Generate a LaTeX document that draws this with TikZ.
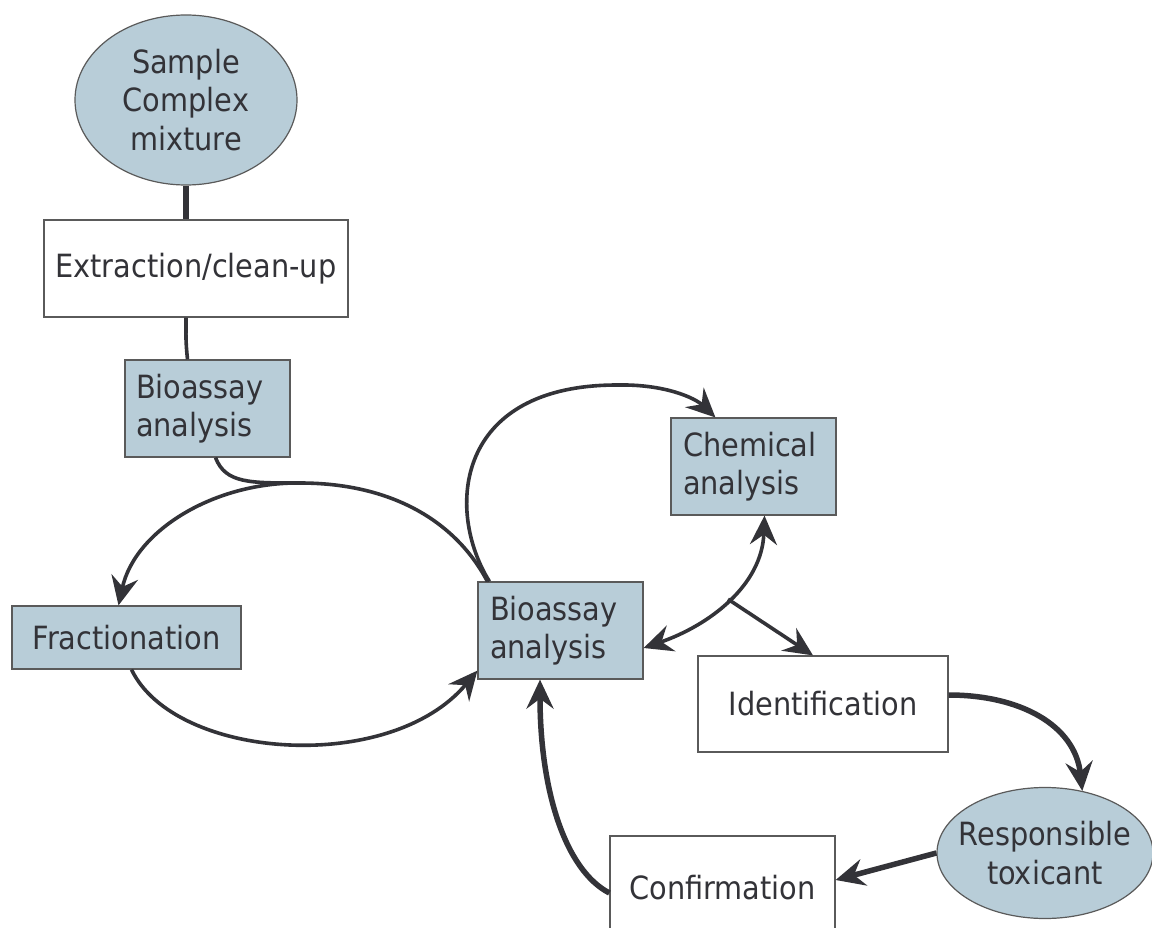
\documentclass[tikz,border=0pt]{standalone}
\usepackage{fontspec}
\setmainfont{DejaVu Sans Condensed}
\usetikzlibrary{arrows.meta,calc,shapes.geometric}
\definecolor{boxfill}{HTML}{B8CDD8}
\definecolor{ink}{HTML}{333338}
\definecolor{edgegrey}{HTML}{5A5A5A}
\begin{document}
\begin{tikzpicture}[x=1pt,y=-1pt,
  every node/.style={text=ink, font=\fontsize{32}{38.5}\selectfont},
  box/.style={draw=edgegrey, line width=1.2pt, rectangle, inner sep=0pt},
  filled/.style={fill=boxfill},
  plain/.style={fill=white},
  oval/.style={ellipse, draw=edgegrey, line width=1.2pt, fill=boxfill, inner sep=0pt, align=center},
  conn/.style={draw=ink, line width=3.6pt},
  heavy/.style={draw=ink, line width=5.5pt},
  tip/.style={-{Stealth[length=29pt,width=27pt,inset=10pt]}},
  twotip/.style={{Stealth[length=29pt,width=27pt,inset=10pt]}-{Stealth[length=29pt,width=27pt,inset=10pt]}}
]
\useasboundingbox (0,0) rectangle (1152,928);
\fill[white] (0,0) rectangle (1152,928);

% nodes
\node[oval, minimum width=222pt, minimum height=170pt] (sample) at (186,100) {Sample\\Complex\\mixture};
\node[box, plain, minimum width=304pt, minimum height=97pt] (extract) at (196,268.5) {Extraction/clean-up};
\node[box, filled, minimum width=165pt, minimum height=97pt, text width=143pt, align=left, inner xsep=11pt] (bio1) at (207.5,408.5) {Bioassay\\analysis};
\node[box, filled, minimum width=229pt, minimum height=63pt] (frac) at (126.5,637.5) {Fractionation};
\node[box, filled, minimum width=165pt, minimum height=97pt, text width=141pt, align=left, inner xsep=12pt] (bio2) at (560.5,630.5) {Bioassay\\analysis};
\node[box, filled, minimum width=165pt, minimum height=97pt, text width=141pt, align=left, inner xsep=12pt] (chem) at (753.5,466.5) {Chemical\\analysis};
\node[box, plain, minimum width=250pt, minimum height=96pt] (ident) at (823,704) {Identification};
\node[oval, inner xsep=-18pt, minimum width=216pt, minimum height=131pt] (resp) at (1045,853) {Responsible\\toxicant};
\node[box, plain, minimum width=225pt, minimum height=104pt] (conf) at (722.5,888) {Confirmation};

% connectors
\draw[heavy] (sample.south) -- (sample.south |- extract.north);
\draw[conn] ([xshift=-10pt]extract.south) .. controls +(0,20) and +(-2,-20) .. ([xshift=-20pt]bio1.north);

\coordinate (looptop) at (300,483);
\draw[conn] ([xshift=8pt]bio1.south) .. controls +(10,26) and +(-50,0) .. (looptop);
\draw[conn, tip] (looptop) .. controls (215,482) and (135,530) .. ([xshift=-8pt]frac.north);
\draw[conn] (looptop) .. controls (390,483) and (455,520) .. ([xshift=10pt]bio2.north west);
\draw[conn, tip] ([xshift=5pt]frac.south) .. controls (175,760) and (390,775) .. ([yshift=9pt]bio2.south west);

\draw[conn, tip] ([xshift=12pt]bio2.north west) .. controls (445,510) and (455,385) .. (617,385)
  .. controls (665,384) and (695,398) .. ([xshift=45pt]chem.north west);

\draw[conn, twotip] ([xshift=11pt]chem.south) .. controls (762,585) and (710,625) .. ([yshift=-17.5pt]bio2.east)
  coordinate[pos=0.5] (branch);
\draw[conn, tip] (branch) -- ([xshift=-10pt]ident.north);

\draw[heavy, tip] ([yshift=9pt]ident.east) .. controls (1020,695) and (1075,725) .. (resp.59);
\draw[heavy, tip] (resp.west) -- ([yshift=8pt]conf.east);
\draw[heavy, tip] ([yshift=-5pt]conf.west) .. controls (565,870) and (540,790) .. ([xshift=-20.5pt]bio2.south);
\end{tikzpicture}
\end{document}
